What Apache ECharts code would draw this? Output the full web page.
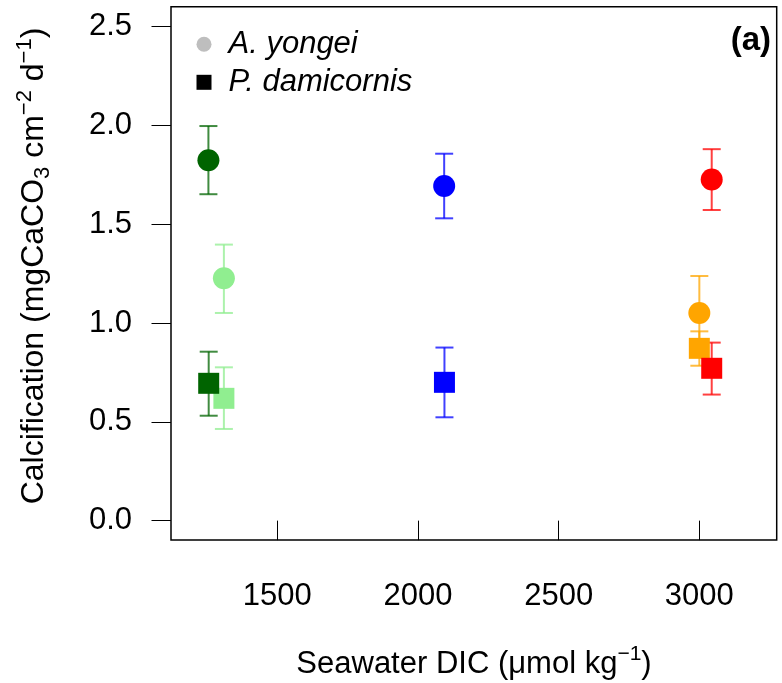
<!DOCTYPE html>
<html>
<head>
<meta charset="utf-8">
<script src="https://cdn.jsdelivr.net/npm/echarts@6/dist/echarts.min.js"></script>
<style>
html,body{margin:0;padding:0;background:#fff;}
#chart{width:782px;height:683px;}
</style>
</head>
<body>
<div id="chart"></div>
<script>
// Treatments (order also sets drawing order)
const treatments = ['Low DIC (light)', 'Low DIC (dark)', 'Ambient DIC', 'High DIC (orange)', 'High DIC (red)'];
const treatmentColors = ['#90EE90', '#006400', '#0000FF', '#FFA500', '#FF0000'];

// A. yongei (circles)
const dicYongei  = [1310, 1255, 2093, 3000, 3044];
const calcYongei = [1.227, 1.824, 1.694, 1.051, 1.726];
const loYongei   = [1.051, 1.652, 1.530, 0.864, 1.572];
const hiYongei   = [1.397, 1.997, 1.857, 1.238, 1.880];

// P. damicornis (squares)
const dicDami  = [1310, 1256, 2094, 3000, 3044];
const calcDami = [0.619, 0.695, 0.700, 0.872, 0.771];
const loDami   = [0.464, 0.531, 0.523, 0.784, 0.638];
const hiDami   = [0.776, 0.855, 0.876, 0.958, 0.901];

// Axis ticks
const xTicks = [1500, 2000, 2500, 3000];
const yTicks = [0.0, 0.5, 1.0, 1.5, 2.0, 2.5];

const FONT = '"Liberation Sans", Arial, Helvetica, sans-serif';

const errData = [];
dicYongei.forEach((x, i) => errData.push([x, loYongei[i], hiYongei[i], i]));
dicDami.forEach((x, i) => errData.push([x, loDami[i], hiDami[i], i]));

function renderErr(params, api) {
  const x = api.value(0), lo = api.value(1), hi = api.value(2);
  const color = treatmentColors[api.value(3)];
  const a = api.coord([x, lo]), b = api.coord([x, hi]);
  const hw = 9;
  const st = {stroke: color, lineWidth: 2, opacity: 0.75};
  return {
    type: 'group',
    children: [
      {type: 'line', shape: {x1: a[0], y1: a[1], x2: b[0], y2: b[1]}, style: st},
      {type: 'line', shape: {x1: a[0] - hw, y1: a[1], x2: a[0] + hw, y2: a[1]}, style: st},
      {type: 'line', shape: {x1: b[0] - hw, y1: b[1], x2: b[0] + hw, y2: b[1]}, style: st}
    ]
  };
}

const chart = echarts.init(document.getElementById('chart'), null, {renderer: 'canvas'});
chart.setOption({
  animation: false,
  backgroundColor: '#fff',
  textStyle: {fontFamily: FONT},
  grid: {left: 171, top: 6.7, right: 5.3, bottom: 143, show: true, borderColor: '#000', borderWidth: 1.5, backgroundColor: 'transparent'},
  xAxis: {
    type: 'value', min: 1122, max: 3275,
    axisLine: {show: false},
    splitLine: {show: false},
    axisTick: {show: true, inside: false, length: 19.5, lineStyle: {color: '#000', width: 1}, customValues: xTicks},
    axisLabel: {show: true, margin: 41, fontSize: 31, color: '#000', fontFamily: FONT, customValues: xTicks,
      formatter: v => String(v)}
  },
  yAxis: {
    type: 'value', min: -0.098, max: 2.601,
    axisLine: {show: false},
    splitLine: {show: false},
    axisTick: {show: true, inside: false, length: 19.5, lineStyle: {color: '#000', width: 1}, customValues: yTicks},
    axisLabel: {show: true, margin: 39, fontSize: 31, color: '#000', fontFamily: FONT, customValues: yTicks,
      formatter: v => Number(v).toFixed(1)}
  },
  legend: {
    orient: 'vertical', left: 191.5, top: 20.3, itemGap: 0,
    itemWidth: 15, itemHeight: 15, selectedMode: false,
    textStyle: {fontSize: 31, fontStyle: 'italic', color: '#000', fontFamily: FONT, lineHeight: 38, padding: [0, 0, 0, 12]},
    data: [
      {name: 'A. yongei', icon: 'circle', itemStyle: {color: '#BEBEBE', opacity: 1}},
      {name: 'P. damicornis', icon: 'rect', itemStyle: {color: '#000000', opacity: 1}}
    ]
  },
  graphic: [
    {type: 'text', x: 771, y: 41, z: 100,
      style: {text: '(a)', fontSize: 33, fontWeight: 'bold', fontFamily: FONT, fill: '#000', align: 'right', verticalAlign: 'middle'}},
    {type: 'text', x: 474, y: 664, z: 100,
      style: {
        text: '{n|Seawater DIC (μmol kg}{sup|−1}{n|)}',
        align: 'center', verticalAlign: 'middle', fill: '#000', fontFamily: FONT,
        rich: {
          n: {fontSize: 31, lineHeight: 40, fontFamily: FONT, fill: '#000'},
          sup: {fontSize: 21, lineHeight: 14, verticalAlign: 'top', fontFamily: FONT, fill: '#000'}
        }
      }},
    {type: 'text', x: 34, y: 266, rotation: Math.PI / 2, z: 100,
      style: {
        text: '{n|Calcification (mgCaCO}{sub|3}{n| cm}{sup|−2}{n| d}{sup|−1}{n|)}',
        align: 'center', verticalAlign: 'middle', fill: '#000', fontFamily: FONT,
        rich: {
          n: {fontSize: 32, lineHeight: 40, fontFamily: FONT, fill: '#000'},
          sub: {fontSize: 22, lineHeight: 24, verticalAlign: 'bottom', fontFamily: FONT, fill: '#000'},
          sup: {fontSize: 22, lineHeight: 14, verticalAlign: 'top', fontFamily: FONT, fill: '#000'}
        }
      }}
  ],
  series: [
    {
      type: 'custom', name: 'errors', renderItem: renderErr, data: errData,
      encode: {x: 0, y: [1, 2]}, z: 1, silent: true
    },
    {
      type: 'scatter', name: 'A. yongei', symbol: 'circle', symbolSize: 22, z: 2,
      itemStyle: {opacity: 1},
      data: dicYongei.map((x, i) => ({value: [x, calcYongei[i]], itemStyle: {color: treatmentColors[i], opacity: 1}}))
    },
    {
      type: 'scatter', name: 'P. damicornis', symbol: 'rect', symbolSize: 21, z: 3,
      itemStyle: {opacity: 1},
      data: dicDami.map((x, i) => ({value: [x, calcDami[i]], itemStyle: {color: treatmentColors[i], opacity: 1}}))
    }
  ]
});
</script>
</body>
</html>
